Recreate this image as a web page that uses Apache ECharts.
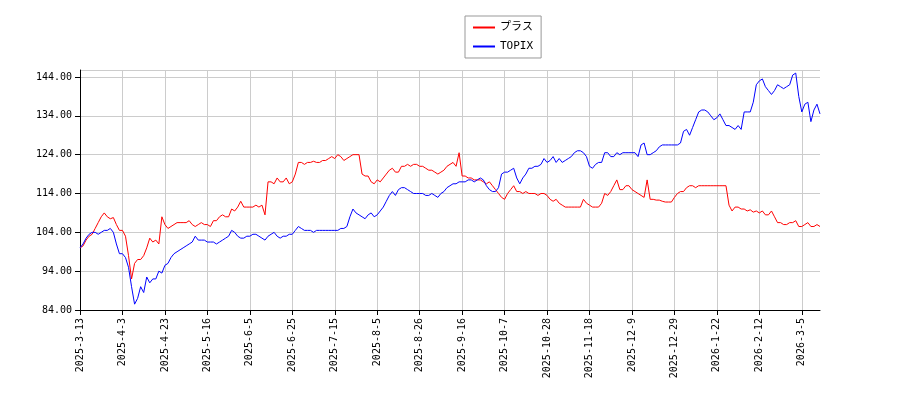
<!DOCTYPE html>
<html>
<head>
<meta charset="utf-8">
<title>プラス vs TOPIX</title>
<script src="https://cdn.jsdelivr.net/npm/echarts@6/dist/echarts.min.js"></script>
<style>
  html, body { margin: 0; padding: 0; background: #fff; }
  #chart { width: 900px; height: 400px; }
</style>
</head>
<body>
<div id="chart"></div>
<script>
// 東証の休場日 (平日)
var holidays = ['2025-3-20','2025-4-29','2025-5-5','2025-5-6','2025-7-21','2025-8-11','2025-9-15','2025-9-23',
  '2025-10-13','2025-11-3','2025-11-24','2025-12-31','2026-1-1','2026-1-2','2026-1-12','2026-2-11','2026-2-23'];

var plusValues = [
  100,100.5,102,103,103.5,105,106.5,108,109,108,107.5,107.8,106,104.5,
  104.5,103,98,92,96,97,97,98,100,102.5,101.5,102,101,108,
  106,105,105.5,106,106.5,106.5,106.5,106.5,107,106,105.5,106,106.5,106,
  106,105.5,107,107,108,108.5,108,108,110,109.5,110.5,112,110.5,110.5,
  110.5,110.5,111,110.5,111,108.5,117,117,116.5,118,117,117,118,116.5,
  117,119,122,122,121.5,122,122,122.3,122,122,122.5,122.5,123,123.5,
  123,124,123.5,122.5,123,123.5,124,124,124,119,118.5,118.5,117,116.5,
  117.5,117,118,119,120,120.5,119.5,119.5,121,121,121.5,121,121.5,121.5,
  121,121,120.5,120,120,119.5,119,119.5,120,121,121.5,122,121,124.5,
  118.5,118.5,118,118,117.5,117.5,117.5,117,116.5,117,116,115,114,113,
  112.5,114,115,116,114.5,114.5,114,114.5,114,114,114,113.5,114,114,
  113.5,112.5,112,112.5,111.5,111,110.5,110.5,110.5,110.5,110.5,110.5,112.5,111.5,
  111,110.5,110.5,110.5,111.5,114,113.5,114.5,116,117.5,115,115,116,116,
  115,114.5,114,113.5,113,117.5,112.5,112.5,112.3,112.3,112,111.8,111.8,111.8,
  113,114,114.5,114.5,115.5,116,116,115.5,116,116,116,116,116,116,
  116,116,116,116,111,109.5,110.5,110.5,110,110,109.5,109.8,109.2,109.5,
  109,109.5,108.5,108.5,109.5,108,106.5,106.5,106,106,106.5,106.5,107,105.5,
  105.5,106,106.5,105.5,105.5,106,105.5
];

var topixValues = [
  100,101,102.5,103.5,104,104,103.5,104,104.5,104.5,105,104,101,98.5,
  98.5,97.5,95,90,85.5,87,90,88.5,92.5,91,92,92,94,93.5,
  95.5,96,97.5,98.5,99,99.5,100,100.5,101,101.5,103,102,102,102,
  101.5,101.5,101.5,101,101.5,102,102.5,103,104.5,104,103,102.5,102.5,103,
  103,103.5,103.5,103,102.5,102,103,103.5,104,103,102.5,103,103,103.5,
  103.5,104.5,105.5,105,104.5,104.5,104.5,104,104.5,104.5,104.5,104.5,104.5,104.5,
  104.5,104.5,105,105,105.5,108,110,109,108.5,108,107.5,108.5,109,108,
  108.5,109.5,110.5,112,113.5,114.5,113.5,115,115.5,115.5,115,114.5,114,114,
  114,114,113.5,113.5,114,113.5,113,114,114.5,115.5,116,116.5,116.5,117,
  117,117,117.5,117.5,117,117.5,118,117.5,116,115,114.5,114.5,115.5,119,
  119.5,119.5,120,120.5,118,116.5,118,119,120.5,120.5,121,121,121.5,123,
  122,122.5,123.5,122,123,122,122.5,123,123.5,124.5,125,125,124.5,123.5,
  121,120.5,121.5,122,122,124.5,124.5,123.5,123.5,124.5,124,124.5,124.5,124.5,
  124.5,124.5,123.5,126.5,127,124,124,124.5,125,126,126.5,126.5,126.5,126.5,
  126.5,126.5,127,130,130.5,129,131,133,135,135.5,135.5,135,134,133,
  133.5,134.5,133,131.5,131.5,131,130.5,131.5,130.5,135,135,135,137.5,142,
  143,143.5,141.5,140.5,139.5,140.5,142,141.5,141,141.5,142,144.5,145,139,
  135,137,137.5,132.5,135.5,137,134.5
];

// 営業日のカテゴリを作る
var dates = [];
var d = new Date(2025, 2, 13);
while (dates.length < plusValues.length) {
  var s = d.getFullYear() + '-' + (d.getMonth() + 1) + '-' + d.getDate();
  var w = d.getDay();
  if (w !== 0 && w !== 6 && holidays.indexOf(s) < 0) dates.push(s);
  d.setDate(d.getDate() + 1);
}

var showTick = function (idx) { return idx % 14 === 0; };

var chart = echarts.init(document.getElementById('chart'));
chart.setOption({
  animation: false,
  textStyle: { fontFamily: 'DejaVu Sans' },
  legend: {
    top: 16,
    left: 465,
    orient: 'vertical',
    itemWidth: 22,
    itemHeight: 2,
    itemGap: 8,
    padding: [6, 8],
    borderColor: '#999',
    borderWidth: 1,
    borderRadius: 0,
    textStyle: { fontSize: 11, color: '#000', fontFamily: 'DejaVu Sans Mono, Noto Sans CJK JP' },
    data: [
      { name: 'プラス', icon: 'rect' },
      { name: 'TOPIX', icon: 'rect' }
    ]
  },
  grid: { left: 80, right: 80, top: 70, bottom: 90 },
  xAxis: {
    type: 'category',
    boundaryGap: false,
    data: dates,
    axisLine: { lineStyle: { color: '#000' } },
    axisTick: { interval: showTick, lineStyle: { color: '#000' } },
    axisLabel: { interval: showTick, rotate: 90, color: '#000', fontSize: 10, fontFamily: 'DejaVu Sans Mono' },
    splitLine: { show: true, interval: showTick, lineStyle: { color: '#ccc' } }
  },
  yAxis: {
    type: 'value',
    min: 84,
    max: 145.8,
    interval: 10,
    axisLine: { show: true, lineStyle: { color: '#000' } },
    axisTick: { show: true, lineStyle: { color: '#000' } },
    axisLabel: { color: '#000', fontSize: 10, fontFamily: 'DejaVu Sans Mono', formatter: function (v) { return v.toFixed(2); } },
    splitLine: { lineStyle: { color: '#ccc' } }
  },
  series: [
    { name: 'プラス', type: 'line', data: plusValues, symbol: 'none', color: '#ff0000', lineStyle: { width: 1 } },
    { name: 'TOPIX', type: 'line', data: topixValues, symbol: 'none', color: '#0000ff', lineStyle: { width: 1 } }
  ]
});
</script>
</body>
</html>
